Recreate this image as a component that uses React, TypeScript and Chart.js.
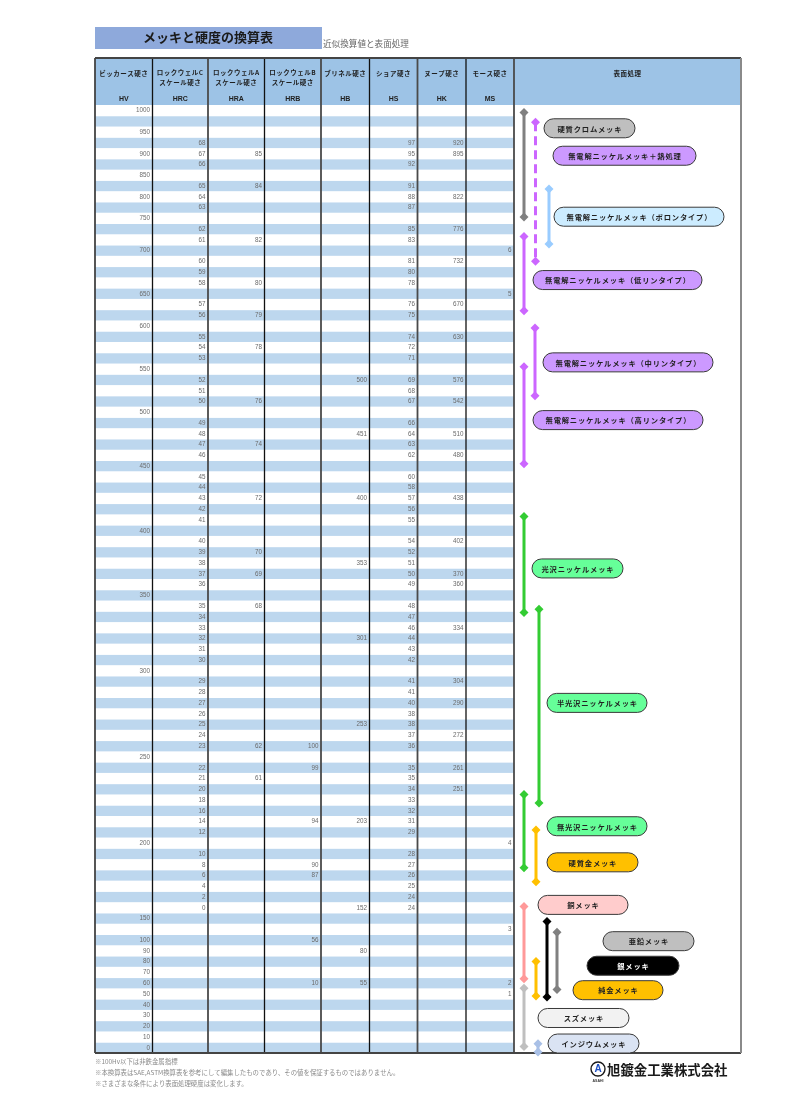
import React, { useEffect, useRef } from 'react';
import { Chart, registerables } from 'chart.js';

Chart.register(...registerables);

const _ = null;

// ---------- header texts ----------
const COLUMN_TITLES: string[][] = [
  ['ビッカース硬さ'],
  ['ロックウェルC', 'スケール硬さ'],
  ['ロックウェルA', 'スケール硬さ'],
  ['ロックウェルB', 'スケール硬さ'],
  ['ブリネル硬さ'],
  ['ショア硬さ'],
  ['ヌープ硬さ'],
  ['モース硬さ'],
  ['表面処理'],
];
const COLUMN_CODES = ['HV', 'HRC', 'HRA', 'HRB', 'HB', 'HS', 'HK', 'MS', ''];

// ---------- table values (88 rows, top to bottom) ----------
const HV = [
  1000, _, 950, _, 900, _, 850, _, 800, _,
  750, _, _, 700, _, _, _, 650, _, _,
  600, _, _, _, 550, _, _, _, 500, _,
  _, _, _, 450, _, _, _, _, _, 400,
  _, _, _, _, _, 350, _, _, _, _,
  _, _, 300, _, _, _, _, _, _, _,
  250, _, _, _, _, _, _, _, 200, _,
  _, _, _, _, _, 150, _, 100, 90, 80,
  70, 60, 50, 40, 30, 20, 10, 0,
];
const HRC = [
  _, _, _, 68, 67, 66, _, 65, 64, 63,
  _, 62, 61, _, 60, 59, 58, _, 57, 56,
  _, 55, 54, 53, _, 52, 51, 50, _, 49,
  48, 47, 46, _, 45, 44, 43, 42, 41, _,
  40, 39, 38, 37, 36, _, 35, 34, 33, 32,
  31, 30, _, 29, 28, 27, 26, 25, 24, 23,
  _, 22, 21, 20, 18, 16, 14, 12, _, 10,
  8, 6, 4, 2, 0, _, _, _, _, _,
  _, _, _, _, _, _, _, _,
];
const HRA = [
  _, _, _, _, 85, _, _, 84, _, _,
  _, _, 82, _, _, _, 80, _, _, 79,
  _, _, 78, _, _, _, _, 76, _, _,
  _, 74, _, _, _, _, 72, _, _, _,
  _, 70, _, 69, _, _, 68, _, _, _,
  _, _, _, _, _, _, _, _, _, 62,
  _, _, 61, _, _, _, _, _, _, _,
  _, _, _, _, _, _, _, _, _, _,
  _, _, _, _, _, _, _, _,
];
const HRB = [
  _, _, _, _, _, _, _, _, _, _,
  _, _, _, _, _, _, _, _, _, _,
  _, _, _, _, _, _, _, _, _, _,
  _, _, _, _, _, _, _, _, _, _,
  _, _, _, _, _, _, _, _, _, _,
  _, _, _, _, _, _, _, _, _, 100,
  _, 99, _, _, _, _, 94, _, _, _,
  90, 87, _, _, _, _, _, 56, _, _,
  _, 10, _, _, _, _, _, _,
];
const HB = [
  _, _, _, _, _, _, _, _, _, _,
  _, _, _, _, _, _, _, _, _, _,
  _, _, _, _, _, 500, _, _, _, _,
  451, _, _, _, _, _, 400, _, _, _,
  _, _, 353, _, _, _, _, _, _, 301,
  _, _, _, _, _, _, _, 253, _, _,
  _, _, _, _, _, _, 203, _, _, _,
  _, _, _, _, 152, _, _, _, 80, _,
  _, 55, _, _, _, _, _, _,
];
const HS = [
  _, _, _, 97, 95, 92, _, 91, 88, 87,
  _, 85, 83, _, 81, 80, 78, _, 76, 75,
  _, 74, 72, 71, _, 69, 68, 67, _, 66,
  64, 63, 62, _, 60, 58, 57, 56, 55, _,
  54, 52, 51, 50, 49, _, 48, 47, 46, 44,
  43, 42, _, 41, 41, 40, 38, 38, 37, 36,
  _, 35, 35, 34, 33, 32, 31, 29, _, 28,
  27, 26, 25, 24, 24, _, _, _, _, _,
  _, _, _, _, _, _, _, _,
];
const HK = [
  _, _, _, 920, 895, _, _, _, 822, _,
  _, 776, _, _, 732, _, _, _, 670, _,
  _, 630, _, _, _, 576, _, 542, _, _,
  510, _, 480, _, _, _, 438, _, _, _,
  402, _, _, 370, 360, _, _, _, 334, _,
  _, _, _, 304, _, 290, _, _, 272, _,
  _, 261, _, 251, _, _, _, _, _, _,
  _, _, _, _, _, _, _, _, _, _,
  _, _, _, _, _, _, _, _,
];
const MS = [
  _, _, _, _, _, _, _, _, _, _,
  _, _, _, 6, _, _, _, 5, _, _,
  _, _, _, _, _, _, _, _, _, _,
  _, _, _, _, _, _, _, _, _, _,
  _, _, _, _, _, _, _, _, _, _,
  _, _, _, _, _, _, _, _, _, _,
  _, _, _, _, _, _, _, _, 4, _,
  _, _, _, _, _, _, 3, _, _, _,
  _, 2, 1, _, _, _, _, _,
];
const COLUMNS = [HV, HRC, HRA, HRB, HB, HS, HK, MS];
const ROW_COUNT = HV.length;

// ---------- surface treatments (hardness range in row units) ----------
const TREATMENTS = [
  '硬質クロムメッキ',
  '無電解ニッケルメッキ＋熱処理',
  '無電解ニッケルメッキ（ボロンタイプ）',
  '無電解ニッケルメッキ（低リンタイプ）',
  '無電解ニッケルメッキ（中リンタイプ）',
  '無電解ニッケルメッキ（高リンタイプ）',
  '光沢ニッケルメッキ',
  '半光沢ニッケルメッキ',
  '無光沢ニッケルメッキ',
  '硬質金メッキ',
  '銅メッキ',
  '亜鉛メッキ',
  '銀メッキ',
  '純金メッキ',
  'スズメッキ',
  'インジウムメッキ',
];
const RANGE_TOP = [0.7, 1.6, 7.8, 12.2, 20.7, 24.3, 38.2, 46.8, 64.0, 67.3, 74.4, 76.8, 75.8, 79.5, 82.0, 87.15];
const RANGE_BOTTOM = [10.4, 14.5, 12.9, 19.1, 27.0, 33.3, 47.1, 64.8, 70.8, 72.1, 81.1, 82.1, 82.8, 82.7, 87.4, 87.9];

// ---------- layout & style (not data) ----------
const COL_EDGES = [0, 57.5, 113, 169.5, 226, 274.5, 322.5, 371, 419, 646];
const LANE_X = [429, 440.5, 454, 429, 440, 429, 429, 444, 429, 441, 429, 462, 452, 441, 429, 443];
const PILL_LEFT = [449, 458, 459, 438, 448, 438, 437, 452, 452, 452, 443, 508, 492, 478, 443, 453];
const PILL_RIGHT = [540, 601, 629, 607, 618, 608, 528, 552, 552, 543, 533, 599, 584, 568, 534, 544];
const PILL_ROW = [2.16, 4.71, 10.37, 16.25, 23.89, 29.25, 43.02, 55.5, 66.95, 70.3, 74.25, 77.62, 79.9, 82.17, 84.75, 87.12];
const ARROW_COLORS = ['#808080', '#CC66FF', '#99CCFF', '#CC66FF', '#CC66FF', '#CC66FF', '#33CC33', '#33CC33', '#33CC33', '#FFC000', '#FF9999', '#808080', '#000000', '#FFC000', '#BFBFBF', '#A9C0E6'];
const PILL_FILLS = ['#BFBFBF', '#CC99FF', '#CCECFF', '#CC99FF', '#CC99FF', '#CC99FF', '#66FF99', '#66FF99', '#66FF99', '#FFC000', '#FFCCCC', '#BFBFBF', '#000000', '#FFC000', '#F2F2F2', '#DAE3F3'];
const PILL_TEXT = ['#222', '#222', '#222', '#222', '#222', '#222', '#222', '#222', '#222', '#222', '#222', '#222', '#FFFFFF', '#222', '#222', '#222'];
const DASHED = [false, true, false, false, false, false, false, false, false, false, false, false, false, false, false, false];

const FOOT_NOTES = [
  '※100Hv以下は非鉄金属指標',
  '※本換算表はSAE,ASTM換算表を参考にして編集したものであり、その値を保証するものではありません。',
  '※さまざまな条件により表面処理硬度は変化します。',
];

const JP = '"Noto Sans CJK JP", "Noto Sans", sans-serif';
const NUM = '"Liberation Sans", Arial, sans-serif';

const HEADER_TOP = 58;

const tablePlugin = {
  id: 'tableDecor',
  beforeDatasetsDraw(chart: any) {
    const { ctx, chartArea: ca, scales } = chart;
    const xs = scales.x;
    const ys = scales.y;
    const px = (v: number) => xs.getPixelForValue(v);
    const py = (v: number) => ys.getPixelForValue(v);
    const L = px(COL_EDGES[0]);
    const R = px(COL_EDGES[COL_EDGES.length - 1]);
    const dataRight = px(COL_EDGES[8]);
    ctx.save();

    // title
    ctx.fillStyle = '#8EA9DB';
    ctx.fillRect(L, 27, 227, 22);
    ctx.fillStyle = '#1a1a1a';
    ctx.font = `bold 13px ${JP}`;
    ctx.textAlign = 'center';
    ctx.textBaseline = 'middle';
    ctx.fillText('メッキと硬度の換算表', L + 113, 37.5);
    ctx.textAlign = 'left';
    ctx.font = `8.6px ${JP}`;
    ctx.fillStyle = '#666';
    ctx.fillText('近似換算値と表面処理', L + 228, 44);

    // header background
    ctx.fillStyle = '#9DC3E6';
    ctx.fillRect(L, HEADER_TOP, R - L, ca.top - HEADER_TOP);

    // stripes
    ctx.fillStyle = '#FFFFFF';
    ctx.fillRect(L, ca.top, R - L, ca.bottom - ca.top);
    for (let i = 0; i < ROW_COUNT; i++) {
      if (i % 2 === 1) {
        ctx.fillStyle = '#BDD7EE';
        const t = py(i);
        const b = py(i + 1);
        ctx.fillRect(L, t + 0.5, dataRight - L, b - t - 0.5);
      }
    }

    // header texts
    ctx.fillStyle = '#1f1f1f';
    ctx.textAlign = 'center';
    for (let c = 0; c < COLUMN_TITLES.length; c++) {
      const cx = (px(COL_EDGES[c]) + px(COL_EDGES[c + 1])) / 2;
      const lines = COLUMN_TITLES[c];
      ctx.font = `bold 6.5px ${JP}`;
      (ctx as any).letterSpacing = '0.5px';
      if (lines.length === 1) {
        ctx.fillText(lines[0], cx, 73.5);
      } else {
        ctx.fillText(lines[0], cx, 72.5);
        ctx.fillText(lines[1], cx, 83);
      }
      (ctx as any).letterSpacing = '0px';
      ctx.font = `bold 7px ${NUM}`;
      if (COLUMN_CODES[c]) ctx.fillText(COLUMN_CODES[c], cx, 99.5);
    }

    // values
    ctx.font = `6.3px ${NUM}`;
    ctx.fillStyle = '#6b6b6b';
    ctx.textAlign = 'right';
    for (let c = 0; c < COLUMNS.length; c++) {
      const col = COLUMNS[c];
      const xr = px(COL_EDGES[c + 1]) - 2.5;
      for (let i = 0; i < col.length; i++) {
        const v = col[i];
        if (v === null || v === undefined) continue;
        ctx.fillText(String(v), xr, py(i + 0.5) + 0.3);
      }
    }

    // column lines
    for (let c = 1; c < COL_EDGES.length - 1; c++) {
      const xx = px(COL_EDGES[c]);
      ctx.strokeStyle = c % 2 === 0 ? '#4a4a4a' : '#111';
      ctx.lineWidth = c % 2 === 0 ? 1.8 : 1.3;
      ctx.beginPath();
      ctx.moveTo(xx, HEADER_TOP);
      ctx.lineTo(xx, ca.bottom);
      ctx.stroke();
    }
    // outer border
    ctx.strokeStyle = '#444';
    ctx.lineWidth = 1.8;
    ctx.beginPath();
    ctx.moveTo(L, HEADER_TOP);
    ctx.lineTo(R, HEADER_TOP);
    ctx.moveTo(L, HEADER_TOP);
    ctx.lineTo(L, ca.bottom);
    ctx.moveTo(L, ca.bottom);
    ctx.lineTo(R, ca.bottom);
    ctx.stroke();
    ctx.strokeStyle = '#8a8a8a';
    ctx.lineWidth = 2;
    ctx.beginPath();
    ctx.moveTo(R, HEADER_TOP);
    ctx.lineTo(R, ca.bottom);
    ctx.stroke();

    // footer
    ctx.textAlign = 'left';
    ctx.fillStyle = '#8a8a8a';
    ctx.font = `6.4px ${JP}`;
    FOOT_NOTES.forEach((t, k) => ctx.fillText(t, L, ca.bottom + 9 + k * 11));

    // logo
    const lx = 598;
    const ly = 1069;
    ctx.beginPath();
    ctx.arc(lx, ly, 7, 0, Math.PI * 2);
    ctx.fillStyle = '#fff';
    ctx.fill();
    ctx.strokeStyle = '#1a1a1a';
    ctx.lineWidth = 1.4;
    ctx.stroke();
    ctx.fillStyle = '#1E4FC2';
    ctx.font = `bold 10px ${NUM}`;
    ctx.textAlign = 'center';
    ctx.fillText('A', lx, ly + 0.5);
    ctx.fillStyle = '#333';
    ctx.font = `bold 3.5px ${NUM}`;
    ctx.fillText('ASAHI', lx, ly + 12);
    ctx.textAlign = 'left';
    ctx.fillStyle = '#1a1a1a';
    ctx.font = `bold 13.4px ${JP}`;
    ctx.fillText('旭鍍金工業株式会社', 607, 1069.5);

    ctx.restore();
  },
  afterDatasetsDraw(chart: any) {
    const { ctx, scales } = chart;
    const px = (v: number) => scales.x.getPixelForValue(v);
    const py = (v: number) => scales.y.getPixelForValue(v);
    ctx.save();
    ctx.textAlign = 'center';
    ctx.textBaseline = 'middle';
    for (let k = 0; k < TREATMENTS.length; k++) {
      const l = px(PILL_LEFT[k]);
      const r = px(PILL_RIGHT[k]);
      const cy = py(PILL_ROW[k]);
      const h = 19;
      ctx.beginPath();
      (ctx as any).roundRect(l, cy - h / 2, r - l, h, h / 2);
      ctx.fillStyle = PILL_FILLS[k];
      ctx.fill();
      ctx.strokeStyle = '#3a3a3a';
      ctx.lineWidth = 1;
      ctx.stroke();
      ctx.fillStyle = PILL_TEXT[k];
      ctx.font = `bold 7.3px ${JP}`;
      (ctx as any).letterSpacing = '0.8px';
      ctx.fillText(TREATMENTS[k], (l + r) / 2 + 0.4, cy + 0.5);
      (ctx as any).letterSpacing = '0px';
    }
    ctx.restore();
  },
};

export default function App() {
  const ref = useRef<HTMLCanvasElement | null>(null);
  useEffect(() => {
    document.body.style.margin = '0';
    const canvas = ref.current;
    if (!canvas) return;
    const datasets = TREATMENTS.map((name, k) => ({
      label: name,
      data: [
        { x: LANE_X[k], y: RANGE_TOP[k] },
        { x: LANE_X[k], y: RANGE_BOTTOM[k] },
      ],
      showLine: true,
      borderColor: ARROW_COLORS[k],
      backgroundColor: ARROW_COLORS[k],
      borderWidth: 3,
      borderDash: DASHED[k] ? [9, 5] : [],
      pointStyle: 'rectRot',
      pointRadius: 4.5,
      pointBackgroundColor: ARROW_COLORS[k],
      pointBorderColor: ARROW_COLORS[k],
      pointBorderWidth: 0,
      clip: false as any,
    }));
    const chart = new Chart(canvas, {
      type: 'scatter',
      data: { datasets: datasets as any },
      options: {
        responsive: false,
        animation: false,
        devicePixelRatio: 1,
        layout: { padding: { top: 105, left: 95, right: 59, bottom: 61 } },
        scales: {
          x: { type: 'linear', min: 0, max: 646, display: false },
          y: { type: 'linear', min: 0, max: ROW_COUNT, reverse: true, display: false },
        },
        plugins: { legend: { display: false }, tooltip: { enabled: false } },
        elements: { line: { tension: 0 } },
      },
      plugins: [tablePlugin as any],
    });
    return () => chart.destroy();
  }, []);
  return (
    <div style={{ position: 'absolute', left: 0, top: 0, width: 800, height: 1114, background: '#fff' }}>
      <canvas ref={ref} width={800} height={1114} style={{ display: 'block' }} />
    </div>
  );
}
